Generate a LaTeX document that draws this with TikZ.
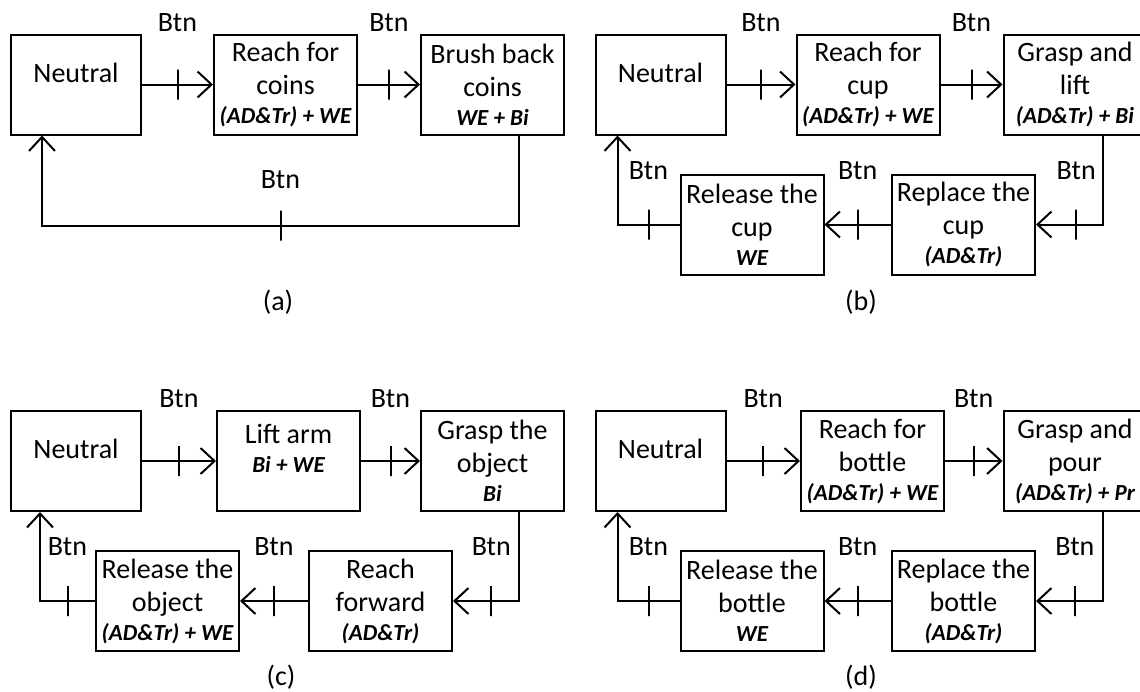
\documentclass[tikz,border=0pt]{standalone}
\usepackage{fontspec}
\setmainfont{Carlito}
\usetikzlibrary{arrows.meta,positioning}
\newcommand{\mus}[1]{{\fontsize{23}{27}\selectfont\bfseries\itshape #1}}

\begin{document}
\begin{tikzpicture}[x=1pt,y=-1pt,
  font=\fontsize{28}{33}\selectfont,
  box/.style={draw, line width=2pt, align=center, inner sep=0pt, minimum width=143pt, minimum height=100pt},
  home/.style={box, minimum width=130pt, text depth=24pt},
  arr/.style={-{Straight Barb[length=14pt,width=26pt]}, line width=2pt},
  tick/.style={draw, line width=2pt, inner sep=0pt, minimum width=0pt, minimum height=30pt},
  btn/.style={inner sep=0pt}]
\useasboundingbox (0,0) rectangle (1140,691);
% (a) coins
\node[home] (a1) at (76,84.5) {Neutral};
\node[box] (a2) at (285.5,84.5) {Reach for\\ coins\\[-4pt] \mus{(AD\&Tr) + WE}};
\node[box] (a3) at (492.5,84.5) {Brush back\\ coins\\[-4pt] \mus{WE + Bi}};
\draw[arr] (a1) -- node[tick] (ta1) {} node[btn, above=52pt] (la1) {Btn} (a2);
\draw[arr] (a2) -- node[tick] (ta2) {} node[btn, above=52pt] (la2) {Btn} (a3);
\draw[arr] ([xshift=26.5pt]a3.south) -- ++(0,90) -| node[pos=0.25, tick] (ta3) {} node[pos=0.25, btn, above=36pt] (la3) {Btn} ([xshift=-34pt]a1.south);
\node (capa) at (278,302) {(a)};
% (b) cup
\node[home] (b1) at (660.5,84.5) {Neutral};
\node[box] (b2) at (868,84.5) {Reach for\\ cup\\[-4pt] \mus{(AD\&Tr) + WE}};
\node[box] (b3) at (1075,84.5) {Grasp and\\ lift\\[-4pt] \mus{(AD\&Tr) + Bi}};
\node[box] (b4) at (963.5,224.5) {Replace the\\ cup\\[-4pt] \mus{(AD\&Tr)}};
\node[box] (b5) at (752,224.5) {Release the\\ cup\\[-4pt] \mus{WE}};
\draw[arr] (b1) -- node[tick] (tb1) {} node[btn, above=52pt] (lb1) {Btn} (b2);
\draw[arr] (b2) -- node[tick] (tb2) {} node[btn, above=52pt] (lb2) {Btn} (b3);
\draw[arr] ([xshift=28pt]b3.south) |- node[pos=0.7, tick] (tb3) {} node[pos=0.7, btn, above=44pt] (lb3) {Btn} (b4.east);
\draw[arr] (b4) -- node[tick] (tb4) {} node[btn, above=44pt] (lb4) {Btn} (b5);
\draw[arr] (b5.west) -| node[pos=0.25, tick] (tb5) {} node[pos=0.25, btn, above=44pt] (lb5) {Btn} ([xshift=-43pt]b1.south);
\node (capb) at (861,302) {(b)};
% (c) object
\node[home] (c1) at (76,461) {Neutral};
\node[box, text depth=26pt] (c2) at (288.5,461) {Lift arm\\[-4pt] \mus{Bi + WE}};
\node[box] (c3) at (492.5,461) {Grasp the\\ object\\[-4pt] \mus{Bi}};
\node[box] (c4) at (380.5,601) {Reach\\ forward\\[-4pt] \mus{(AD\&Tr)}};
\node[box] (c5) at (167.5,601) {Release the\\ object\\[-4pt] \mus{(AD\&Tr) + WE}};
\draw[arr] (c1) -- node[tick] (tc1) {} node[btn, above=52pt] (lc1) {Btn} (c2);
\draw[arr] (c2) -- node[tick] (tc2) {} node[btn, above=52pt] (lc2) {Btn} (c3);
\draw[arr] ([xshift=26.5pt]c3.south) |- node[pos=0.71, tick] (tc3) {} node[pos=0.71, btn, above=44pt] (lc3) {Btn} (c4.east);
\draw[arr] (c4) -- node[tick] (tc4) {} node[btn, above=44pt] (lc4) {Btn} (c5);
\draw[arr] (c5.west) -| node[pos=0.25, tick] (tc5) {} node[pos=0.25, btn, above=44pt] (lc5) {Btn} ([xshift=-36pt]c1.south);
\node (capc) at (281,677) {(c)};
% (d) bottle
\node[home] (d1) at (660.5,461) {Neutral};
\node[box] (d2) at (872.5,461) {Reach for\\ bottle\\[-4pt] \mus{(AD\&Tr) + WE}};
\node[box] (d3) at (1075,461) {Grasp and\\ pour\\[-4pt] \mus{(AD\&Tr) + Pr}};
\node[box] (d4) at (963.5,601) {Replace the\\ bottle\\[-4pt] \mus{(AD\&Tr)}};
\node[box] (d5) at (752,601) {Release the\\ bottle\\[-4pt] \mus{WE}};
\draw[arr] (d1) -- node[tick] (td1) {} node[btn, above=52pt] (ld1) {Btn} (d2);
\draw[arr] (d2) -- node[tick] (td2) {} node[btn, above=52pt] (ld2) {Btn} (d3);
\draw[arr] ([xshift=28pt]d3.south) |- node[pos=0.71, tick] (td3) {} node[pos=0.71, btn, above=44pt] (ld3) {Btn} (d4.east);
\draw[arr] (d4) -- node[tick] (td4) {} node[btn, above=44pt] (ld4) {Btn} (d5);
\draw[arr] (d5.west) -| node[pos=0.25, tick] (td5) {} node[pos=0.25, btn, above=44pt] (ld5) {Btn} ([xshift=-43pt]d1.south);
\node (capd) at (861,677) {(d)};
\end{tikzpicture}
\end{document}
